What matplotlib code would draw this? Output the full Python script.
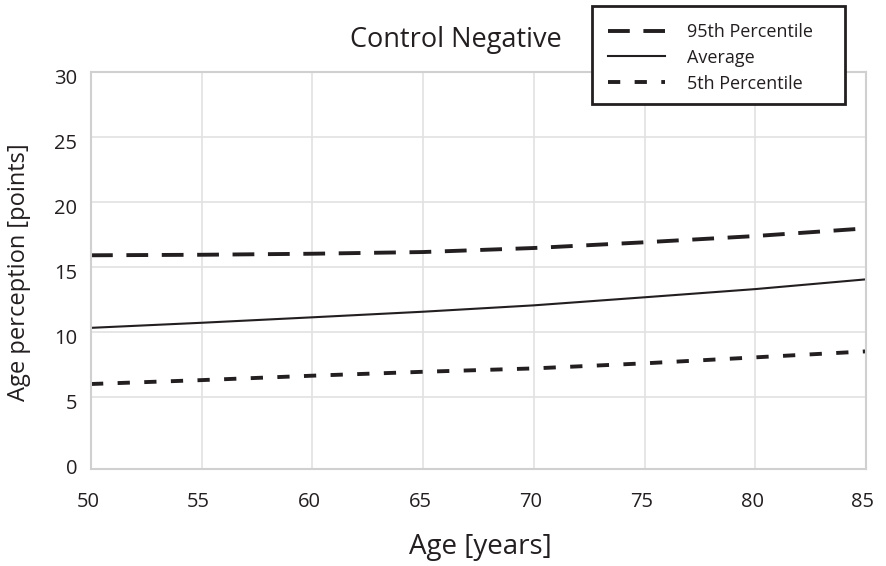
import matplotlib
matplotlib.use("Agg")
import matplotlib.pyplot as plt
from matplotlib.transforms import ScaledTranslation
from matplotlib.patches import Rectangle

plt.rcParams['font.family'] = ['Open Sans', 'DejaVu Sans']

age = [50, 55, 60, 65, 70, 75, 80, 85]
p95 = [15.88, 15.92, 16.00, 16.13, 16.44, 16.88, 17.36, 17.95]
average = [10.30, 10.69, 11.11, 11.54, 12.03, 12.65, 13.28, 14.03]
p5 = [5.98, 6.28, 6.62, 6.92, 7.18, 7.57, 8.03, 8.49]

xticks = [50, 55, 60, 65, 70, 75, 80, 85]
yticks = [0, 5, 10, 15, 20, 25, 30]

title = "Control Negative"
xlabel = "Age [years]"
ylabel = "Age perception [points]"
labels = ["95th Percentile", "Average", "5th Percentile"]

ink = '#231f20'
W, H = 887, 566
fig = plt.figure(figsize=(W / 100, H / 100), dpi=100)
ax = fig.add_axes([91 / W, 1 - 469.3 / H, (866 - 91) / W, (469.3 - 71.7) / H])

l1, = ax.plot(age, p95, color=ink, lw=2.8, dashes=(5.6, 3.5))
l2, = ax.plot(age, average, color=ink, lw=1.5)
l3, = ax.plot(age, p5, color=ink, lw=2.8, dashes=(3.15, 3.7))

ax.set_xlim(50, 85)
ax.set_ylim(-0.58, 30)
ax.set_xticks(xticks)
ax.set_yticks(yticks)
ax.grid(True, color='#e2e2e2', lw=1.2)
ax.set_axisbelow(True)
ax.yaxis.get_gridlines()[0].set_visible(False)
for s in ax.spines.values():
    s.set_color('#d0d0d0')
    s.set_linewidth(1.5)
ax.tick_params(length=0, labelsize=14.5, colors=ink)
ax.tick_params(axis='x', pad=16)
ax.tick_params(axis='y', pad=10)
for lab in ax.get_yticklabels():
    lab.set_transform(lab.get_transform() + ScaledTranslation(0, -5 / 100, fig.dpi_scale_trans))
for lab in ax.get_xticklabels():
    lab.set_transform(lab.get_transform() + ScaledTranslation(-3 / 100, 0, fig.dpi_scale_trans))

fig.text(455.5 / W, 1 - 40 / H, title, ha='center', va='center', fontsize=19.5, color=ink)
fig.text(480 / W, 1 - 547 / H, xlabel, ha='center', va='center', fontsize=20, color=ink)
fig.text(19 / W, 1 - 272 / H, ylabel, ha='center', va='center', rotation=90, fontsize=17, color=ink)

# legend frame box
fig.patches.append(Rectangle((592 / W, 1 - 104 / H), (845 - 592) / W, (104 - 5.7) / H,
                             transform=fig.transFigure, facecolor='white', edgecolor=ink,
                             lw=2, zorder=4))
leg = fig.legend([l1, l2, l3], labels, loc='upper left', bbox_to_anchor=(608 / W, 1 - 23 / H),
                 bbox_transform=fig.transFigure, borderaxespad=0, fontsize=13,
                 handlelength=3.15, handletextpad=1.2, labelspacing=0.43, borderpad=0,
                 frameon=False)
leg.set_zorder(5)
for t in leg.get_texts():
    t.set_color(ink)

fig.savefig('out.png', dpi=100)
